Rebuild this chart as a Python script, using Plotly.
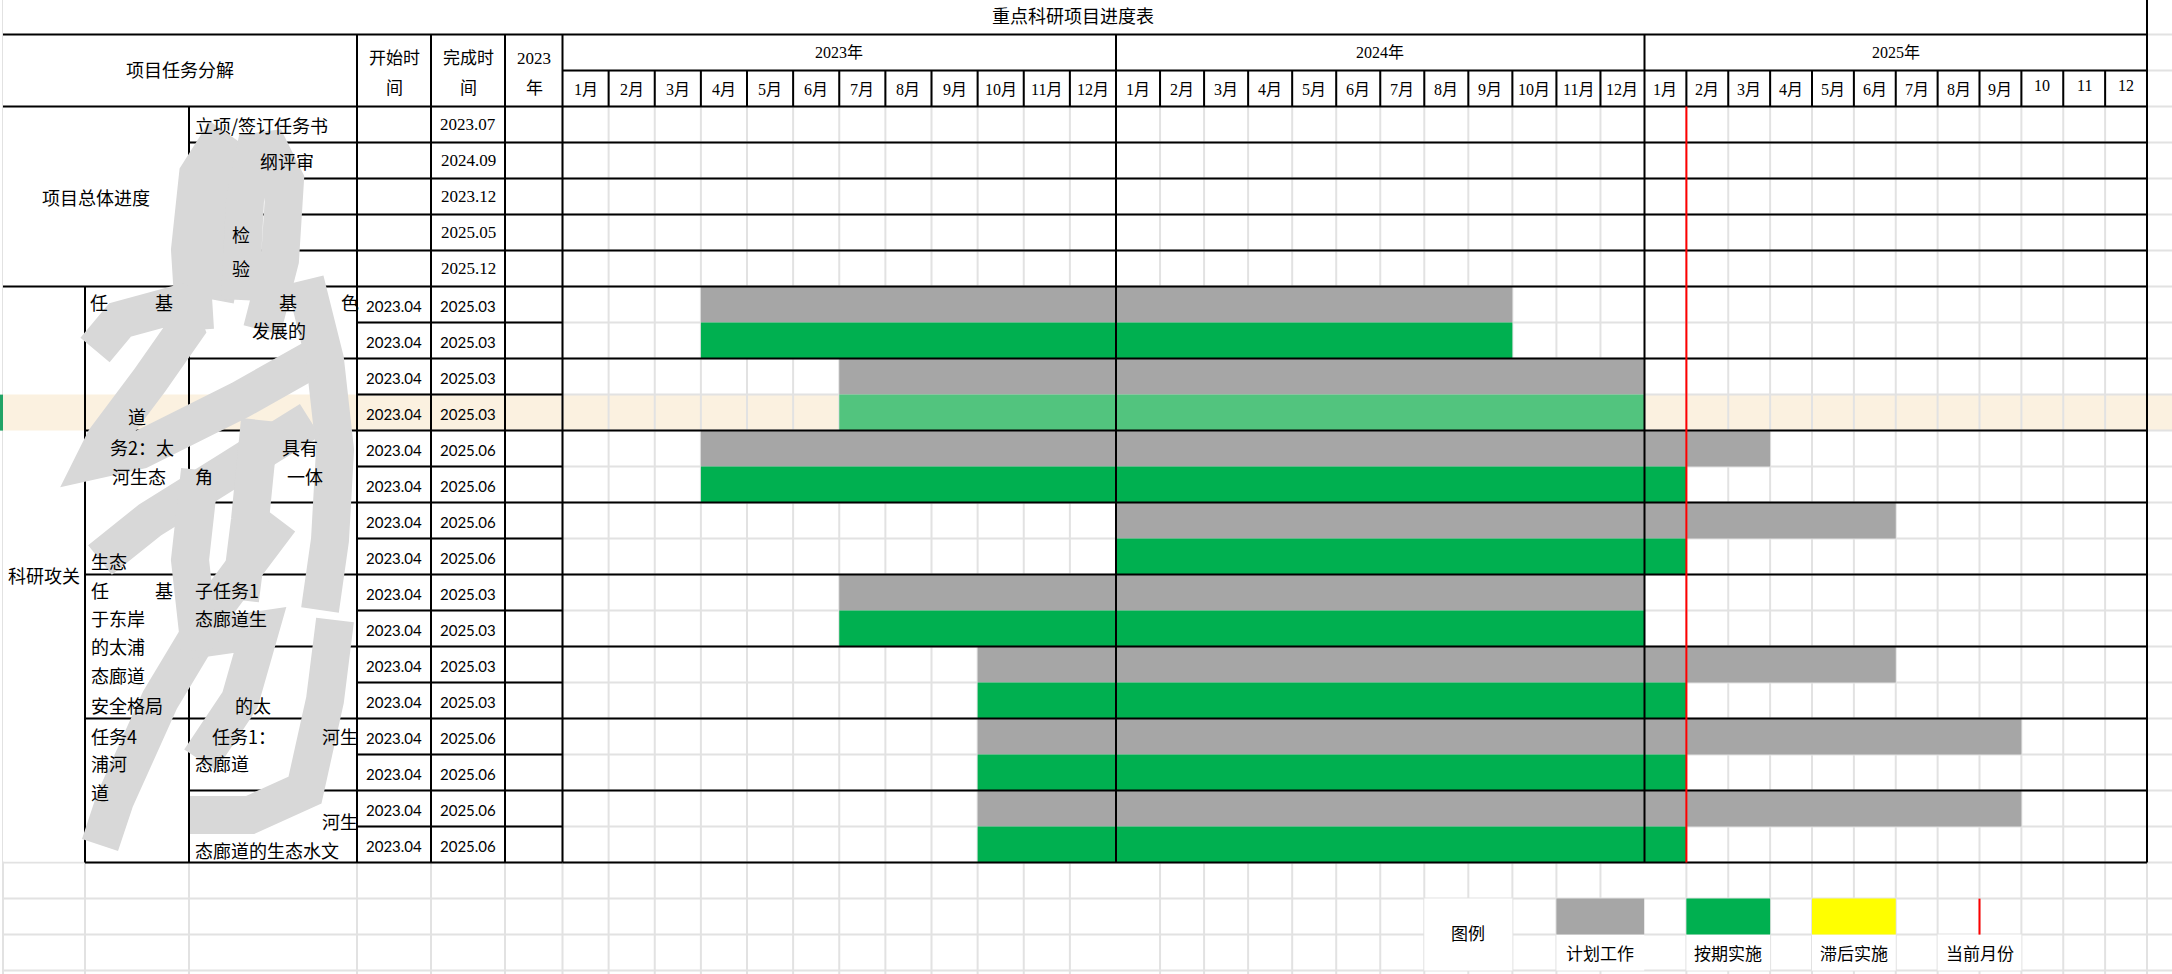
import plotly.graph_objects as go

# ---------------- data ----------------
TITLE = "重点科研项目进度表"
HEAD_TASK = "项目任务分解"
HEAD_START = ["开始时", "间"]
HEAD_END = ["完成时", "间"]
HEAD_YEAR = ["2023", "年"]
YEAR_LABELS = ["2023年", "2024年", "2025年"]
MONTHS_2023 = ["1月", "2月", "3月", "4月", "5月", "6月", "7月", "8月", "9月", "10月", "11月", "12月"]
MONTHS_2024 = ["1月", "2月", "3月", "4月", "5月", "6月", "7月", "8月", "9月", "10月", "11月", "12月"]
MONTHS_2025 = ["1月", "2月", "3月", "4月", "5月", "6月", "7月", "8月", "9月", "10", "11", "12"]

OVERVIEW = "项目总体进度"
OVERVIEW_DONE = ["2023.07", "2024.09", "2023.12", "2025.05", "2025.12"]
RESEARCH = "科研攻关"
ROW_START = ["2023.04", "2023.04", "2023.04", "2023.04", "2023.04", "2023.04", "2023.04", "2023.04",
             "2023.04", "2023.04", "2023.04", "2023.04", "2023.04", "2023.04", "2023.04", "2023.04"]
ROW_END = ["2025.03", "2025.03", "2025.03", "2025.03", "2025.06", "2025.06", "2025.06", "2025.06",
           "2025.03", "2025.03", "2025.03", "2025.03", "2025.06", "2025.06", "2025.06", "2025.06"]

PLAN_START = ["2023-04", "2023-07", "2023-04", "2024-01", "2023-07", "2023-10", "2023-10", "2023-10"]
PLAN_END = ["2024-09", "2024-12", "2025-03", "2025-06", "2024-12", "2025-06", "2025-09", "2025-09"]
ACTUAL_START = ["2023-04", "2023-07", "2023-04", "2024-01", "2023-07", "2023-10", "2023-10", "2023-10"]
ACTUAL_END = ["2024-09", "2024-12", "2025-01", "2025-01", "2024-12", "2025-01", "2025-01", "2025-01"]
CURRENT_MONTH = "2025-02"

LEGEND_TITLE = "图例"
LEGEND_LABELS = ["计划工作", "按期实施", "滞后实施", "当前月份"]

# readable parts of the (partly masked) task descriptions: (text, left px, centre px)
FRAGMENTS = [
    ("立项/签订任务书", 193, 125), ("纲评审", 258, 161), ("检", 230, 234), ("验", 230, 268),
    ("任", 88, 302), ("基", 153, 302), ("道", 126, 416), ("务2：太", 108, 447),
    ("河生态", 110, 476), ("生态", 89, 561), ("任", 89, 590), ("基", 153, 590),
    ("于东岸", 89, 618), ("的太浦", 89, 646), ("态廊道", 89, 675), ("安全格局", 89, 705),
    ("任务4", 89, 736), ("浦河", 89, 763), ("道", 89, 792),
    ("基", 277, 302), ("色", 339, 302), ("发展的", 250, 330), ("具有", 280, 447),
    ("角", 193, 476), ("一体", 285, 476), ("子任务1", 193, 590), ("态廊道生", 193, 618),
    ("的太", 233, 705), ("任务1：", 210, 736), ("河生", 320, 736), ("态廊道", 193, 763),
    ("河生", 320, 821), ("态廊道的生态水文", 193, 850),
]

# ---------------- layout constants ----------------
W, H = 2172, 974
TOP, RH = 34.6, 36.0
COLS = [3, 85, 189, 357, 431, 505, 562.5]
YEAR_X = [562.5, 1116, 1644.5, 2147]
DATA_ROW0 = 7
SELECTED_ROW = 3
GRAY, GREEN, GREEN_HL, YELLOW, RED = "#A6A6A6", "#00B050", "#52C47E", "#FFFF00", "#FF0000"
GRID, BLACK, BEIGE, SEL = "#E2E2E2", "#000000", "#FBF1E0", "#21A366"
SERIF = "Liberation Serif, Noto Sans CJK SC"
CJK = "Noto Sans CJK SC"
DATEF = "Lato"


def P(x):
    return x / W


def Q(y):
    return 1 - y / H


def ry(r):
    return TOP + RH * r


def mi(s):
    y, m = s.split("-")
    return (int(y) - 2023) * 12 + int(m) - 1


def rect(x0, y0, x1, y1, color, layer="below", xref="paper"):
    if xref == "paper":
        x0, x1 = P(x0), P(x1)
    return dict(type="rect", xref=xref, yref="paper", x0=x0, x1=x1, y0=Q(y1), y1=Q(y0),
                fillcolor=color, line=dict(width=0), layer=layer)


def line(x0, y0, x1, y1, color, w=2, layer="above", xref="paper"):
    if xref == "paper":
        x0, x1 = P(x0), P(x1)
    return dict(type="line", xref=xref, yref="paper", x0=x0, x1=x1, y0=Q(y0), y1=Q(y1),
                line=dict(color=color, width=w), layer=layer)


fig = go.Figure()

# ---------------- bars (through the three year axes) ----------------
plan_y = [DATA_ROW0 + 2 * i + 0.5 for i in range(len(PLAN_START))]
act_y = [DATA_ROW0 + 2 * i + 1.5 for i in range(len(ACTUAL_START))]
plan_base = [mi(s) for s in PLAN_START]
plan_len = [mi(e) + 1 - mi(s) for s, e in zip(PLAN_START, PLAN_END)]
act_base = [mi(s) for s in ACTUAL_START]
act_len = [mi(e) + 1 - mi(s) for s, e in zip(ACTUAL_START, ACTUAL_END)]
act_col = [GREEN_HL if 2 * i + 1 == SELECTED_ROW else GREEN for i in range(len(ACTUAL_START))]

year_axes = ["x2", "x3", "x4"]
for ax in year_axes:
    fig.add_trace(go.Bar(orientation="h", y=plan_y, x=plan_len, base=plan_base, width=1,
                         marker=dict(color=GRAY, line=dict(width=0)), xaxis=ax, yaxis="y",
                         hoverinfo="skip", showlegend=False))
    fig.add_trace(go.Bar(orientation="h", y=act_y, x=act_len, base=act_base, width=1,
                         marker=dict(color=act_col, line=dict(width=0)), xaxis=ax, yaxis="y",
                         hoverinfo="skip", showlegend=False))

shapes = []
sel_top, sel_bot = ry(DATA_ROW0 + SELECTED_ROW), ry(DATA_ROW0 + SELECTED_ROW + 1)
# selected row highlight under the grid
shapes.append(rect(COLS[3], sel_top, W, sel_bot, BEIGE))

# sheet grid
nrows = int((H - TOP) / RH) + 1
for r in range(0, nrows):
    shapes.append(line(3, ry(r), W, ry(r), GRID, 2, "below"))
for x in COLS + [YEAR_X[-1]]:
    shapes.append(line(x, 0, x, H, GRID, 2, "below"))
for k, ax in enumerate(year_axes):
    for m in range(1, 12):
        shapes.append(line(12 * k + m, 0, 12 * k + m, H, GRID, 2, "below", xref=ax))

# merged cells (hide grid)
shapes += [
    rect(3, 0, YEAR_X[-1], ry(0), "white"),
    rect(3, ry(0), COLS[-1], ry(2), "white"),
    rect(COLS[-1], ry(0), YEAR_X[-1], ry(1), "white"),
    rect(3, ry(2), COLS[2], ry(7), "white"),
    rect(3, ry(7), COLS[3], ry(23) - 1, "white"),
    rect(19, ry(24), 21, ry(26), "white", xref="x3"),
    rect(22, ry(25), 24, ry(26), "white", xref="x3"),
    rect(25, ry(25), 27, ry(26), "white", xref="x4"),
    rect(28, ry(25), 30, ry(26), "white", xref="x4"),
    rect(31, ry(25), 33, ry(26), "white", xref="x4"),
]
shapes.append(rect(3, sel_top, COLS[3], sel_bot, BEIGE))
shapes.append(rect(0, sel_top, 3, sel_bot, SEL))

# legend swatches
shapes += [
    rect(22, ry(24), 24, ry(25), GRAY, xref="x3"),
    rect(25, ry(24), 27, ry(25), GREEN, xref="x4"),
    rect(28, ry(24), 30, ry(25), YELLOW, xref="x4"),
    line(32, ry(24), 32, ry(25), RED, 2, "above", xref="x4"),
]

# table borders
R = YEAR_X[-1]
shapes += [line(3, ry(0), R, ry(0), BLACK), line(COLS[-1], ry(1), R, ry(1), BLACK),
           line(3, ry(2), R, ry(2), BLACK), line(3, ry(7), R, ry(7), BLACK)]
for r in range(3, 7):
    shapes.append(line(COLS[2], ry(r), R, ry(r), BLACK))
for r in range(DATA_ROW0 + 1, DATA_ROW0 + 17):
    shapes.append(line(COLS[3], ry(r), COLS[-1], ry(r), BLACK))
    if (r - DATA_ROW0) % 2 == 0:
        shapes.append(line(COLS[2], ry(r), COLS[3], ry(r), BLACK))
        shapes.append(line(COLS[-1], ry(r), R, ry(r), BLACK))
    if (r - DATA_ROW0) % 4 == 0:
        shapes.append(line(COLS[1], ry(r), COLS[2], ry(r), BLACK))
for x in COLS[3:] + YEAR_X[1:-1]:
    shapes.append(line(x, ry(0), x, ry(23), BLACK))
shapes.append(line(R, 0, R, ry(23), BLACK))
shapes.append(line(COLS[2], ry(2), COLS[2], ry(23), BLACK))
shapes.append(line(COLS[1], ry(7), COLS[1], ry(23), BLACK))
for k, ax in enumerate(year_axes):
    for m in range(1, 12):
        shapes.append(line(12 * k + m, ry(1), 12 * k + m, ry(2), BLACK, 2, "above", xref=ax))

# current month marker
shapes.append(line(mi(CURRENT_MONTH), ry(2), mi(CURRENT_MONTH), ry(23), RED, 2, "above", xref="x4"))

# masking scribble over the task descriptions
STROKES = [
    [(195, 330), (190, 250), (198, 175), (215, 148), (232, 160), (228, 230), (215, 300)],
    [(240, 300), (245, 200), (255, 152), (270, 150), (285, 180), (280, 260), (262, 330)],
    [(95, 350), (120, 320), (175, 305), (185, 330), (150, 380), (105, 440), (95, 460),
     (140, 450), (240, 400), (320, 355)],
    [(305, 280), (325, 360), (335, 450), (330, 540), (320, 610)],
    [(310, 420), (230, 470), (150, 520), (100, 560)],
    [(280, 520), (220, 600), (160, 700), (115, 800), (100, 845)],
    [(190, 640), (260, 630), (240, 700), (200, 760)],
    [(335, 620), (325, 700), (305, 790), (250, 815), (190, 815)],
    [(260, 420), (250, 520), (240, 600)],
    [(200, 470), (190, 560), (200, 650)],
]
for st in STROKES:
    path = "M " + " L ".join(f"{P(x):.5f},{Q(y):.5f}" for x, y in st)
    shapes.append(dict(type="path", xref="paper", yref="paper", path=path,
                       line=dict(color="#D8D8D8", width=38), layer="above"))

# ---------------- text ----------------
ann = []


def txt(t, x, y, size=17, family=SERIF, xanchor="center", xref="paper"):
    ann.append(dict(text=t, x=P(x) if xref == "paper" else x, y=Q(y), xref=xref, yref="paper",
                    xanchor=xanchor, yanchor="middle", showarrow=False,
                    font=dict(size=size, family=family, color="#000")))


txt(TITLE, 1073, 17, 18)
txt(HEAD_TASK, 180, 71, 18)
txt(HEAD_START[0], 394, 58, 17); txt(HEAD_START[1], 394, 88, 17)
txt(HEAD_END[0], 468, 58, 17); txt(HEAD_END[1], 468, 88, 17)
txt(HEAD_YEAR[0], 534, 58, 17); txt(HEAD_YEAR[1], 534, 88, 17)
for k, ax in enumerate(year_axes):
    txt(YEAR_LABELS[k], 12 * k + 6, ry(0) + 18, 16, xref=ax)
for k, (ax, labels) in enumerate(zip(year_axes, [MONTHS_2023, MONTHS_2024, MONTHS_2025])):
    for m, lab in enumerate(labels):
        yy = ry(1) + 19 if "月" in lab else ry(1) + 15
        txt(lab, 12 * k + m + 0.5, yy, 16, xref=ax)

txt(OVERVIEW, 96, (ry(2) + ry(7)) / 2, 18, CJK)
txt(RESEARCH, 44, (ry(7) + ry(23)) / 2, 18, CJK)
for i, d in enumerate(OVERVIEW_DONE):
    txt(d, 468, ry(2 + i) + 18, 17)
for i, (s, e) in enumerate(zip(ROW_START, ROW_END)):
    txt(s, 394, ry(DATA_ROW0 + i) + 19, 15, DATEF)
    txt(e, 468, ry(DATA_ROW0 + i) + 19, 15, DATEF)
for t, x, y in FRAGMENTS:
    txt(t, x, y, 18, CJK, xanchor="left")

txt(LEGEND_TITLE, 20, ry(25), 17, xref="x3")
for lab, (ax, xc) in zip(LEGEND_LABELS, [("x3", 23), ("x4", 26), ("x4", 29), ("x4", 32)]):
    txt(lab, xc, ry(25) + 20, 17, xref=ax)

axis_off = dict(visible=False, showgrid=False, zeroline=False, fixedrange=True)
fig.update_layout(
    width=W, height=H, margin=dict(l=0, r=0, t=0, b=0),
    paper_bgcolor="white", plot_bgcolor="rgba(0,0,0,0)",
    barmode="overlay", showlegend=False,
    xaxis=dict(domain=[0, 1], range=[0, W], **axis_off),
    yaxis=dict(domain=[0, 1], range=[(H - TOP) / RH, -TOP / RH], **axis_off),
    xaxis2=dict(domain=[P(YEAR_X[0]), P(YEAR_X[1])], range=[0, 12], anchor="y", **axis_off),
    xaxis3=dict(domain=[P(YEAR_X[1]), P(YEAR_X[2])], range=[12, 24], anchor="y", **axis_off),
    xaxis4=dict(domain=[P(YEAR_X[2]), P(YEAR_X[3])], range=[24, 36], anchor="y", **axis_off),
    shapes=shapes, annotations=ann,
)
fig.write_html("out.html", config={"displayModeBar": False},
               post_script="document.body.style.margin='0px';document.body.style.overflow='hidden';")
